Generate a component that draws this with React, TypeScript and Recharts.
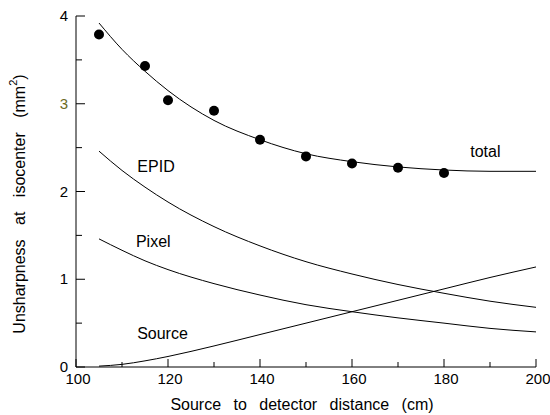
import { ComposedChart, Line, Scatter, XAxis, YAxis, ReferenceDot, Label } from "recharts";

// model curves (cm -> mm^2)
const distance = [105, 110, 115, 120, 130, 140, 150, 160, 170, 180, 190, 200];
const epid = [2.46, 2.24, 2.05, 1.88, 1.6, 1.38, 1.2, 1.06, 0.94, 0.84, 0.75, 0.68];
const pixel = [1.46, 1.33, 1.21, 1.11, 0.95, 0.82, 0.71, 0.63, 0.56, 0.5, 0.44, 0.4];
const source = [0.01, 0.03, 0.07, 0.12, 0.24, 0.37, 0.5, 0.63, 0.76, 0.89, 1.02, 1.14];
const total = [3.92, 3.62, 3.37, 3.15, 2.81, 2.59, 2.43, 2.34, 2.28, 2.245, 2.23, 2.23];

// measured points
const measuredDistance = [105, 115, 120, 130, 140, 150, 160, 170, 180];
const measured = [3.79, 3.43, 3.04, 2.92, 2.59, 2.4, 2.32, 2.27, 2.21];

const xTicks = [100, 110, 120, 130, 140, 150, 160, 170, 180, 190, 200];
const yTicks = [0, 0.5, 1, 1.5, 2, 2.5, 3, 3.5, 4];

const curveLabels = [
  { name: "EPID", x: 117.4, y: 2.29 },
  { name: "Pixel", x: 116.8, y: 1.43 },
  { name: "Source", x: 118.8, y: 0.38 },
  { name: "total", x: 189, y: 2.46 },
];

const rows = distance.map((d, i) => ({
  distance: d,
  epid: epid[i],
  pixel: pixel[i],
  source: source[i],
  total: total[i],
}));

const points = measuredDistance.map((d, i) => ({ distance: d, measured: measured[i] }));

const font = "'Liberation Sans', Arial, sans-serif";

function BottomTick(props: any) {
  const { x, y, payload } = props;
  const major = payload.value % 20 === 0;
  return (
    <g>
      <line x1={x} y1={y} x2={x} y2={y - (major ? 8 : 5)} stroke="#000" />
      {major && (
        <text x={x + 2} y={y + 17} textAnchor="middle" fontSize={15} fill="#000" fontFamily={font}>
          {payload.value}
        </text>
      )}
    </g>
  );
}

function TopTick(props: any) {
  const { x, y, payload } = props;
  const major = payload.value % 20 === 0;
  return <line x1={x} y1={y} x2={x} y2={y + (major ? 9 : 6)} stroke="#333" />;
}

function LeftTick(props: any) {
  const { x, y, payload } = props;
  const major = Number.isInteger(payload.value);
  return (
    <g>
      <line x1={x} y1={y} x2={x + (major ? 9 : 6)} y2={y} stroke="#000" />
      {major && (
        <text
          x={x - 8}
          y={y + 5}
          textAnchor="end"
          fontSize={15}
          fill={payload.value === 3 ? "#6b6b22" : "#000"}
          fontFamily={font}
        >
          {payload.value}
        </text>
      )}
    </g>
  );
}

function RightTick(props: any) {
  const { x, y, payload } = props;
  const major = Number.isInteger(payload.value);
  return <line x1={x} y1={y} x2={x - (major ? 9 : 6)} y2={y} stroke="#333" />;
}

export default function App() {
  return (
    <div style={{ position: "absolute", left: 0, top: 0, background: "#fff" }}>
      <ComposedChart width={550} height={415} data={rows} margin={{ top: 16, right: 14, bottom: 0, left: 16 }}>
        <XAxis
          dataKey="distance"
          type="number"
          domain={[100, 200]}
          ticks={xTicks}
          interval={0}
          height={48}
          tickSize={0}
          tickMargin={0}
          tickLine={false}
          tick={<BottomTick />}
          axisLine={{ stroke: "#000" }}
        >
          <Label
            content={(p: any) => {
              const vb = p.viewBox;
              return (
                <text
                  x={vb.x + vb.width / 2 - 4}
                  y={vb.y + 43}
                  textAnchor="middle"
                  fontSize={16}
                  fontFamily={font}
                  fill="#000"
                  style={{ wordSpacing: 8 }}
                >
                  Source to detector distance (cm)
                </text>
              );
            }}
          />
        </XAxis>
        <XAxis
          xAxisId="t"
          orientation="top"
          dataKey="distance"
          type="number"
          domain={[100, 200]}
          ticks={xTicks}
          interval={0}
          height={0}
          tickSize={0}
          tickMargin={0}
          tickLine={false}
          tick={<TopTick />}
          axisLine={{ stroke: "#777" }}
        />
        <YAxis
          type="number"
          domain={[0, 4]}
          ticks={yTicks}
          interval={0}
          width={60}
          tickSize={0}
          tickMargin={0}
          tickLine={false}
          tick={<LeftTick />}
          axisLine={{ stroke: "#000" }}
        >
          <Label
            content={() => (
              <text
                x={19}
                y={204}
                transform="rotate(-90 19 204)"
                textAnchor="middle"
                dominantBaseline="central"
                fontSize={16}
                fontFamily={font}
                fill="#000"
                style={{ wordSpacing: 10 }}
              >
                Unsharpness at isocenter (mm
                <tspan baselineShift="super" fontSize={11}>
                  2
                </tspan>
                )
              </text>
            )}
          />
        </YAxis>
        <YAxis
          yAxisId="r"
          orientation="right"
          type="number"
          domain={[0, 4]}
          ticks={yTicks}
          interval={0}
          width={0}
          tickSize={0}
          tickMargin={0}
          tickLine={false}
          tick={<RightTick />}
          axisLine={{ stroke: "#777" }}
        />
        <Line dataKey="epid" type="monotone" stroke="#000" strokeWidth={1} dot={false} isAnimationActive={false} />
        <Line dataKey="pixel" type="monotone" stroke="#000" strokeWidth={1} dot={false} isAnimationActive={false} />
        <Line dataKey="source" type="monotone" stroke="#000" strokeWidth={1} dot={false} isAnimationActive={false} />
        <Line dataKey="total" type="monotone" stroke="#000" strokeWidth={1} dot={false} isAnimationActive={false} />
        <Scatter
          data={points}
          dataKey="measured"
          isAnimationActive={false}
          shape={(p: any) => <circle cx={p.cx} cy={p.cy} r={5} fill="#000" />}
        />
        {curveLabels.map((l) => (
          <ReferenceDot
            key={l.name}
            x={l.x}
            y={l.y}
            r={0}
            fill="none"
            stroke="none"
            label={{ value: l.name, position: "center", fontSize: 16, fill: "#000", fontFamily: font }}
          />
        ))}
      </ComposedChart>
    </div>
  );
}
